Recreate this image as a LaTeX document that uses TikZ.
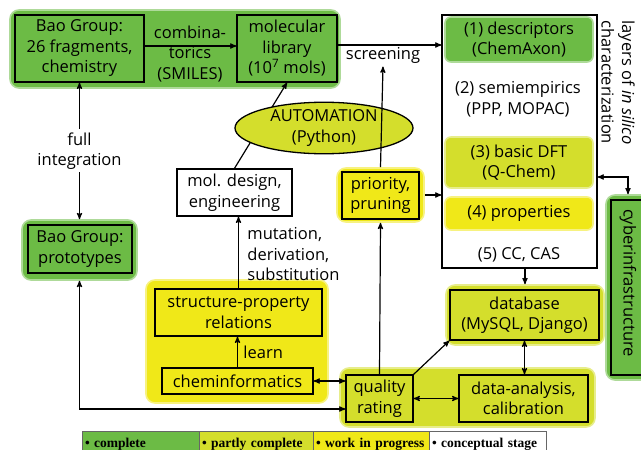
\documentclass[tikz,border=0pt]{standalone}
\usepackage{fontspec}
\setmainfont{Open Sans}
\newfontfamily\legendfont{Liberation Serif}
\usetikzlibrary{arrows,shapes,positioning,calc}
\definecolor{complete}{RGB}{108,187,69}
\definecolor{partial}{RGB}{212,222,44}
\definecolor{inprog}{RGB}{240,232,24}
\tikzset{
    every node/.style={
        align=center,
        font=\fontsize{16.5}{20.5}\selectfont,
    },
    box/.style={
        rectangle,
        draw=black,
        line width=1.3pt,
        inner sep=0pt,
    },
    group/.style={
        rectangle,
        rounded corners=9pt,
        line width=1.6pt,
        draw=#1!55!white,
        fill=#1,
        inner sep=0pt,
    },
    layer/.style={
        group=#1,
        rounded corners=6pt,
    },
    auto-ell/.style={
        ellipse,
        draw=black,
        line width=1.3pt,
        fill=partial,
        minimum width=178pt,
        minimum height=49pt,
        inner sep=0pt,
    },
    legend/.style={
        rectangle,
        draw=black!60,
        line width=0.6pt,
        outer sep=0pt,
        minimum height=26pt,
        inner sep=3pt,
        align=left,
        font=\legendfont\bfseries\fontsize{13.5}{15}\selectfont,
    },
    link/.style={
        draw,
        >=stealth',
        line width=1.2pt,
    },
    every edge/.style={
        draw,
        ->,>=stealth',
        line width=1.2pt,
    },
}
\begin{document}
\begin{tikzpicture}[x=1pt,y=-1pt]
\useasboundingbox (0,0) rectangle (641,450);
% groups by state
\node [group=complete, minimum width=330pt, minimum height=78pt] (top) at (175,49) {};
\node [group=complete, minimum width=115pt, minimum height=60pt] (proto) at (79.5,250) {};
\node [group=inprog, minimum width=182pt, minimum height=123pt] (wipgrp) at (237,341.5) {};
\node [group=inprog, minimum width=87pt, minimum height=54pt] (prio) at (380.5,195) {};
\node [group=partial, minimum width=255pt, minimum height=59pt] (qualgrp) at (467.5,397.5) {};
\node [group=partial, minimum width=158pt, minimum height=60pt] (db) at (525,315) {};
\node [group=complete, minimum width=44pt, minimum height=185pt] (cyber) at (628,287.5) {};
% boxes
\node [box, fill=complete, minimum width=129pt, minimum height=67pt] (bao) at (79.5,48.5) {Bao Group:\\26 fragments,\\chemistry};
\node [box, fill=complete, minimum width=100pt, minimum height=67pt] (lib) at (287,48.5) {molecular\\library\\(10\textsuperscript{7} mols)};
\node [box, fill=complete, minimum width=104pt, minimum height=48pt] (protobox) at (80,249) {Bao Group:\\prototypes};
\node [box, fill=white, minimum width=115pt, minimum height=47pt] (mold) at (234.5,192.5) {mol. design,\\engineering};
\node [box, fill=inprog, minimum width=77pt, minimum height=47pt] (priobox) at (380.5,195.5) {priority,\\pruning};
\node [box, fill=inprog, minimum width=167pt, minimum height=47pt] (struct) at (238.5,312.5) {structure-property\\relations};
\node [box, fill=inprog, minimum width=151pt, minimum height=26pt] (chem) at (237.5,381) {cheminformatics};
\node [box, fill=partial, minimum width=67pt, minimum height=47pt] (qual) at (379.5,398.5) {quality\\rating};
\node [box, fill=partial, minimum width=129pt, minimum height=47pt] (data) at (523.5,398.5) {data-analysis,\\calibration};
\node [box, fill=partial, minimum width=149pt, minimum height=50pt] (dbbox) at (524.5,315) {database\\(MySQL, Django)};
\node [box, fill=complete, minimum width=34pt, minimum height=175pt] (cyberbox) at (628,287.5) {};
\node [rotate=-90] (cybertext) at (628,283) {cyberinfrastructure};
% layers of characterization
\node [box, fill=white, minimum width=155pt, minimum height=253pt] (layers) at (519.5,141.5) {};
\node [layer=complete, minimum width=148pt, minimum height=45pt] (desc) at (519,39.5) {(1) descriptors\\(ChemAxon)};
\node (semi) at (518,99) {(2) semiempirics\\(PPP, MOPAC)};
\node [layer=partial, minimum width=148pt, minimum height=51pt] (dft) at (519,162.5) {(3) basic DFT\\(Q-Chem)};
\node [layer=inprog, minimum width=148pt, minimum height=33pt] (props) at (519,213.5) {(4) properties};
\node (cc) at (519,255) {(5) CC, CAS};
\node [rotate=-90, anchor=west, align=left] (layerlbl) at (618,17) {layers of \textit{in silico}\\characterization};
% connectors
\draw (mold.north) edge (lib.south);
\node [auto-ell] (auto) at (324,128) {AUTOMATION\\(Python)};
\node (combi) at (190,54) {combina-\\torics\\(SMILES)};
\node (screen) at (383,55) {screening};
\draw ([yshift=2.5pt]bao.east) edge ([yshift=2.5pt]lib.west);
\draw ([yshift=3.5pt]lib.east) edge ([yshift=3.5pt]lib.east -| layers.west);
\draw (prio.north) edge (screen.south);
\draw (qual.north) edge (prio.south);
\draw (prio.east) edge (prio.east -| layers.west);
\draw (db.north |- layers.south) edge (db.north);
\draw (dbbox.south) edge[<->] (dbbox.south |- data.north);
\draw (qual.north east) edge (dbbox.south west);
\draw (chem.east) edge[<->] (chem.east -| qual.west);
\draw (qual.east) edge[<->] (data.west);
\draw (chem.north) edge node[right, xshift=2pt] {learn} (chem.north |- struct.south);
\draw (struct.north) edge node[right, align=left, xshift=5pt, yshift=-2pt] {mutation,\\derivation,\\substitution} (struct.north |- mold.south);
\draw (bao.south) edge[<->] node[fill=white, inner sep=3pt] {full\\integration} (proto.north);
\draw[link, <->] (proto.south) |- ([yshift=-10.5pt]qual.west);
\draw[link, <->] ([yshift=-35.5pt]layers.east) -| (cyber.north);
% legend
\node [legend, fill=complete, anchor=north west, text width=111pt] (lgdone) at (82,431) {• complete};
\node [legend, fill=partial, text width=108pt, right=0pt of lgdone] (lgpart) {• partly complete};
\node [legend, fill=inprog, text width=110pt, right=0pt of lgpart] (lgwip) {• work in progress};
\node [legend, fill=white, text width=111pt, right=0pt of lgwip] (lgidea) {• conceptual stage};
\end{tikzpicture}
\end{document}
